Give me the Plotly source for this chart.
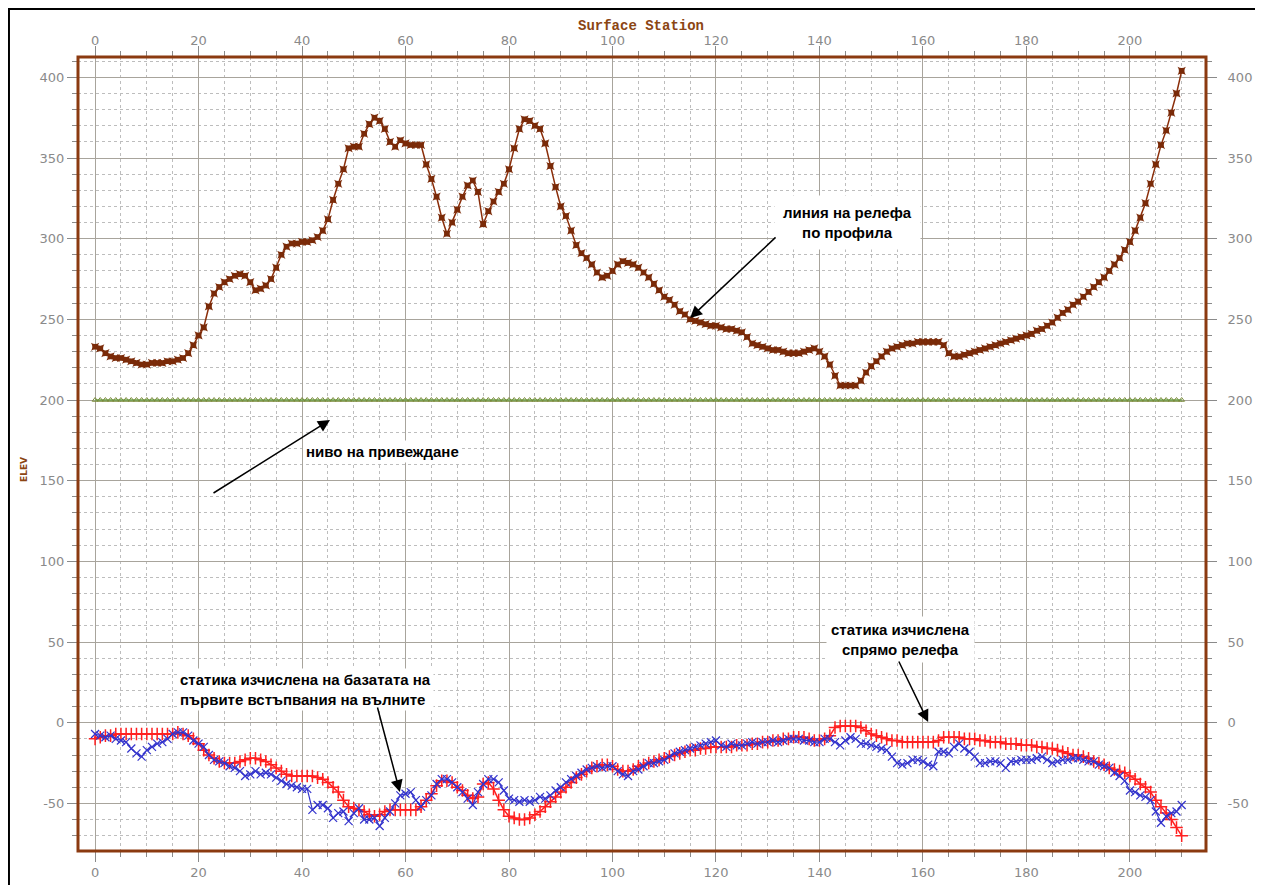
import plotly.graph_objects as go

# ---------------- data ----------------
stations = list(range(0, 211))

relief = [233, 232, 229, 227, 226, 226, 225, 224, 223, 222,
          222, 223, 223, 223, 224, 224, 225, 226, 229, 234,
          240, 245, 258, 266, 270, 273, 275, 277, 278, 277,
          273, 268, 269, 271, 275, 282, 290, 295, 297, 297,
          298, 298, 299, 301, 305, 312, 324, 334, 343, 356,
          357, 357, 365, 371, 375, 373, 368, 360, 357, 361,
          359, 358, 358, 358, 346, 337, 326, 313, 303, 310,
          318, 326, 333, 336, 329, 309, 317, 323, 329, 334,
          343, 356, 368, 374, 373, 370, 368, 359, 345, 332,
          320, 314, 305, 296, 291, 288, 284, 279, 276, 277,
          280, 284, 286, 285, 284, 282, 279, 276, 272, 268,
          264, 262, 259, 255, 253, 250, 249, 248, 247, 246,
          246, 245, 244, 244, 243, 242, 239, 235, 234, 233,
          232, 231, 231, 230, 229, 229, 229, 230, 231, 232,
          230, 227, 222, 215, 209, 209, 209, 209, 212, 217,
          221, 224, 227, 230, 232, 233, 234, 235, 235, 236,
          236, 236, 236, 236, 234, 229, 227, 227, 228, 229,
          230, 231, 232, 233, 234, 235, 236, 237, 238, 239,
          240, 241, 243, 244, 246, 248, 251, 254, 256, 259,
          261, 264, 267, 270, 273, 276, 280, 284, 288, 293,
          298, 305, 313, 322, 334, 346, 358, 367, 378, 390,
          404]

datum_level = [200] * 211

static_relief = [-10, -9, -8, -8, -7, -7, -7, -7, -7, -7,
                 -7, -7, -7, -7, -7, -7, -6, -7, -8, -10,
                 -13, -17, -20, -22, -24, -25, -25, -25, -24, -23,
                 -22, -22, -23, -24, -26, -28, -30, -32, -33, -33,
                 -33, -33, -33, -34, -35, -37, -40, -43, -48, -52,
                 -53, -54, -55, -57, -58, -57, -55, -54, -54, -54,
                 -54, -54, -54, -52, -48, -44, -39, -36, -36, -37,
                 -40, -42, -45, -47, -46, -38, -37, -41, -48, -54,
                 -58, -59, -60, -60, -59, -57, -55, -52, -49, -46,
                 -43, -40, -37, -34, -32, -30, -28, -27, -26, -26,
                 -27, -29, -30, -30, -29, -27, -26, -25, -24, -23,
                 -22, -21, -20, -19, -18, -17, -17, -16, -16, -15,
                 -15, -15, -15, -15, -14, -14, -14, -13, -13, -12,
                 -12, -11, -11, -10, -10, -9, -9, -9, -10, -11,
                 -11, -10, -8, -3, -2, -2, -2, -2, -3, -5,
                 -7, -8, -9, -10, -11, -11, -12, -12, -12, -12,
                 -12, -12, -12, -11, -9, -9, -9, -9, -10, -10,
                 -10, -11, -11, -12, -12, -12, -13, -13, -13, -14,
                 -14, -14, -15, -15, -16, -16, -17, -18, -19, -20,
                 -20, -21, -22, -24, -25, -26, -28, -29, -30, -31,
                 -33, -35, -38, -40, -43, -48, -52, -56, -60, -65,
                 -70]

static_first_breaks = [-7, -8, -9, -8, -10, -11, -12, -16, -19, -21,
                       -17, -15, -13, -12, -10, -7, -6, -6, -8, -11,
                       -13, -15, -20, -23, -24, -25, -27, -28, -30, -33,
                       -32, -30, -32, -31, -32, -34, -36, -38, -39, -40,
                       -41, -41, -54, -51, -51, -53, -59, -56, -55, -61,
                       -56, -53, -60, -60, -59, -64, -59, -55, -50, -45,
                       -44, -43, -48, -52, -48, -45, -38, -35, -35, -37,
                       -40, -43, -47, -51, -43, -38, -35, -35, -37, -42,
                       -47, -48, -49, -48, -49, -48, -46, -47, -45, -42,
                       -40, -37, -35, -33, -31, -29, -28, -27, -28, -27,
                       -27, -30, -32, -33, -30, -29, -27, -25, -25, -24,
                       -23, -21, -19, -18, -17, -16, -15, -14, -13, -12,
                       -11, -14, -15, -13, -14, -14, -13, -12, -13, -12,
                       -12, -11, -12, -11, -10, -10, -10, -11, -11, -12,
                       -12, -10, -10, -12, -14, -11, -9, -10, -13, -13,
                       -14, -15, -16, -17, -21, -25, -26, -25, -23, -23,
                       -24, -26, -27, -18, -18, -19, -15, -13, -16, -18,
                       -21, -25, -25, -24, -24, -25, -28, -24, -24, -23,
                       -23, -23, -22, -21, -23, -25, -24, -23, -23, -22,
                       -22, -23, -24, -24, -26, -27, -28, -31, -33, -36,
                       -42, -43, -45, -46, -48, -55, -62, -58, -56, -55,
                       -51]

x_tick_values = [0, 20, 40, 60, 80, 100, 120, 140, 160, 180, 200]
y_tick_values = [-50, 0, 50, 100, 150, 200, 250, 300, 350, 400]
x_range = [-3.3, 214.7]
y_range = [-79.5, 412.6]

# ---------------- figure ----------------
fig = go.Figure()

fig.add_trace(go.Scatter(
    x=stations, y=datum_level, mode="lines+markers",
    line=dict(color="#6aa84f", width=1.5),
    marker=dict(symbol="triangle-up-open", size=5, color="#7a8a3a",
                line=dict(width=1, color="#7a8a3a")),
    hoverinfo="skip", showlegend=False))

fig.add_trace(go.Scatter(
    x=stations, y=relief, mode="lines+markers",
    line=dict(color="#8b2e0a", width=1.5),
    marker=dict(symbol="star-square", size=7.5, color="#7a2a08"),
    hoverinfo="skip", showlegend=False))

fig.add_trace(go.Scatter(
    x=stations, y=static_relief, mode="lines+markers",
    line=dict(color="#ff2020", width=1.5),
    marker=dict(symbol="cross-thin-open", size=9,
                line=dict(width=1.5, color="#ff3030")),
    hoverinfo="skip", showlegend=False))

fig.add_trace(go.Scatter(
    x=stations, y=static_first_breaks, mode="lines+markers",
    line=dict(color="#3333cc", width=1.2),
    marker=dict(symbol="x-thin-open", size=8,
                line=dict(width=1.2, color="#6060b0")),
    hoverinfo="skip", showlegend=False))

# dummy trace so that the mirrored (top / right) axes are drawn
fig.add_trace(go.Scatter(
    x=stations, y=datum_level, xaxis="x2", yaxis="y2", mode="lines",
    line=dict(width=0), opacity=0, hoverinfo="skip", showlegend=False))

tick_font = dict(family="DejaVu Sans", size=13, color="#8a8a8a")
grid_major = "#a8a49c"
grid_minor = "#bdbdbd"
tick_col = "#8a8a8a"


def xcfg(**kw):
    d = dict(range=x_range, tickmode="array", tickvals=x_tick_values,
             ticktext=[str(v) for v in x_tick_values],
             ticks="outside", ticklen=10, tickwidth=1, tickcolor=tick_col,
             tickfont=tick_font, zeroline=False, showline=False, automargin=False)
    d.update(kw)
    return d


def ycfg(**kw):
    d = dict(range=y_range, tickmode="array", tickvals=y_tick_values,
             ticktext=[str(v) for v in y_tick_values],
             ticks="outside", ticklen=10, tickwidth=1, tickcolor=tick_col,
             tickfont=tick_font, zeroline=False, showline=False, automargin=False)
    d.update(kw)
    return d


# the page adds an 8px body margin, so the figure is 8px smaller and offset
fig.update_layout(
    width=1255, height=877,
    margin=dict(l=70, r=57, t=49, b=34, pad=0),
    paper_bgcolor="white", plot_bgcolor="white",
    showlegend=False,
    xaxis=xcfg(showgrid=True, gridcolor=grid_major, gridwidth=1,
               ticklabelstandoff=-1,
               minor=dict(tickmode="linear", tick0=0, dtick=5, ticks="outside",
                          ticklen=5, tickcolor=tick_col, showgrid=True,
                          gridcolor=grid_minor, griddash="dot", gridwidth=1)),
    yaxis=ycfg(showgrid=True, gridcolor=grid_major, gridwidth=1,
               minor=dict(tickmode="linear", tick0=0, dtick=10, ticks="outside",
                          ticklen=5, tickcolor=tick_col, showgrid=True,
                          gridcolor=grid_minor, griddash="dot", gridwidth=1)),
    xaxis2=xcfg(overlaying="x", side="top", anchor="y2", showgrid=False,
                ticklabelstandoff=-4,
                minor=dict(tickmode="linear", tick0=0, dtick=5, ticks="outside",
                           ticklen=5, tickcolor=tick_col, showgrid=False)),
    yaxis2=ycfg(overlaying="y", side="right", anchor="x2", showgrid=False,
                ticklabelstandoff=8,
                minor=dict(tickmode="linear", tick0=0, dtick=10, ticks="outside",
                           ticklen=5, tickcolor=tick_col, showgrid=False)),
)

# plot-area border (brown) and outer black frame
fig.add_shape(type="rect", xref="paper", yref="paper", x0=0, x1=1, y0=0, y1=1,
              line=dict(color="#8b3a10", width=3), layer="above")
fig.add_shape(type="rect", xref="paper", yref="paper",
              x0=-0.0612, x1=1.2, y0=-0.2, y1=1.0605,
              line=dict(color="black", width=2), layer="above")

# titles
fig.add_annotation(text="<b>Surface Station</b>", xref="paper", yref="paper",
                   x=0.499, y=1.0395, showarrow=False, xanchor="center", yanchor="middle",
                   font=dict(family="Liberation Mono", size=14, color="#8b4513"))
fig.add_annotation(text="<b>ELEV</b>", xref="paper", yref="paper",
                   x=-0.054, y=0.48, showarrow=False, textangle=-90,
                   font=dict(family="DejaVu Sans", size=9, color="#8b4513"))

ann_font = dict(family="Liberation Sans", size=15, color="black")

# text labels
fig.add_annotation(text="<b>линия на релефа<br>по профила</b>", x=145.5, y=310.3,
                   xref="x", yref="y", showarrow=False, bgcolor="white",
                   borderpad=8, font=ann_font, align="center")
fig.add_annotation(text="<b>ниво на привеждане</b>", x=55.5, y=167.8,
                   xref="x", yref="y", showarrow=False, bgcolor="white",
                   borderpad=2, font=ann_font)
fig.add_annotation(text="<b>статика изчислена на базатата на<br>първите встъпвания на вълните</b>",
                   x=15.8, y=20.3, xref="x", yref="y", xanchor="left",
                   showarrow=False, bgcolor="white", borderpad=2,
                   font=ann_font, align="left")
fig.add_annotation(text="<b>статика изчислена<br>спрямо релефа</b>", x=155.6, y=51.3,
                   xref="x", yref="y", showarrow=False, bgcolor="white",
                   borderpad=4, font=ann_font, align="center")

# arrows
arrows = [
    (115.0, 250.8, 131.8, 301.7),
    (45.4, 187.6, 22.6, 141.8),
    (58.9, -42.9, 54.5, 10.4),
    (161.0, 0.5, 155.2, 38.9),
]
for hx, hy, tx, ty in arrows:
    fig.add_annotation(x=hx, y=hy, ax=tx, ay=ty, xref="x", yref="y",
                       axref="x", ayref="y", text="", showarrow=True,
                       arrowhead=2, arrowsize=1.6, arrowwidth=1.5,
                       arrowcolor="black")

fig.write_html("out.html")
